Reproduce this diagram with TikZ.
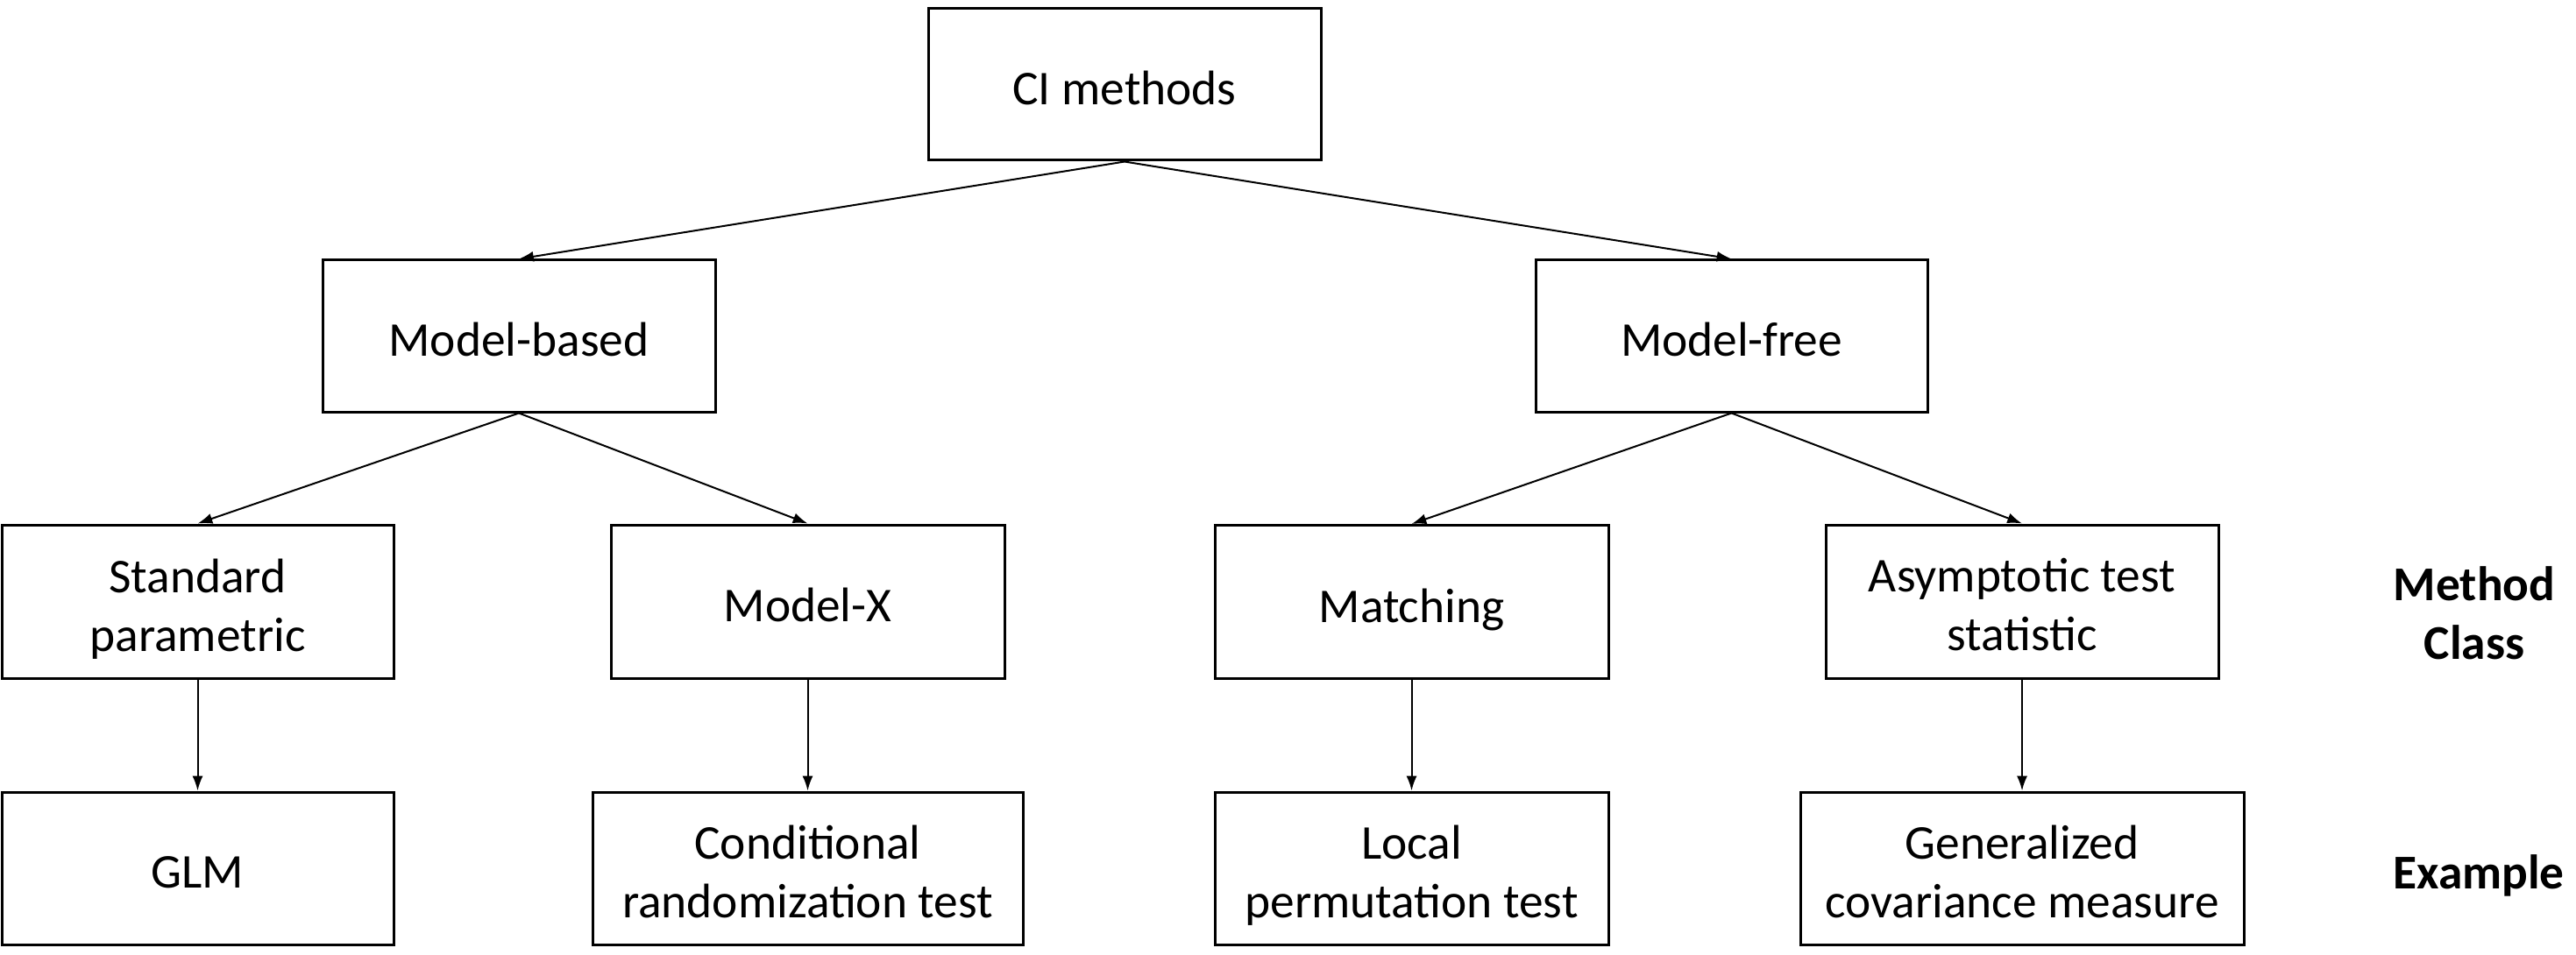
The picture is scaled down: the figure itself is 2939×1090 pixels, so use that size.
\documentclass[tikz,border=0pt]{standalone}
\usepackage{fontspec}
\setmainfont{Carlito}
\usetikzlibrary{arrows.meta}
\newcommand\lnst{\rule{0pt}{11.5pt}}
\newcommand\nodp[1]{\raisebox{0pt}[\height][0pt]{#1}}
\tikzset{
  box/.style={draw=black, line width=0.75pt, rectangle, inner sep=0pt, align=center,
    font=\fontsize{13.85}{16.75}\selectfont},
  conn/.style={draw=black, line width=0.5pt, -{Latex[length=4.2pt,width=3pt]}},
  side/.style={align=center, font=\fontsize{13.85}{16.75}\selectfont\bfseries}
}
\begin{document}
\begin{tikzpicture}[x=0.25pt,y=-0.25pt]
\useasboundingbox (0,0) rectangle (2939,1090);
% level 0
\node[box, minimum width=448*0.25pt, minimum height=173*0.25pt] (ci) at (1283,96.5) {\lnst CI methods};
% level 1
\node[box, minimum width=448*0.25pt, minimum height=173*0.25pt] (mb) at (592,383.5) {\lnst Model-based};
\node[box, minimum width=447*0.25pt, minimum height=173*0.25pt] (mf) at (1975.5,383.5) {\lnst Model-free};
% level 2
\node[box, minimum width=447*0.25pt, minimum height=175*0.25pt] (sp) at (225.5,686.5) {\lnst Standard\\\nodp{parametric}};
\node[box, minimum width=449*0.25pt, minimum height=175*0.25pt] (mx) at (921.5,686.5) {\lnst Model-X};
\node[box, minimum width=449*0.25pt, minimum height=175*0.25pt] (ma) at (1610.5,687) {\lnst\nodp{Matching}};
\node[box, minimum width=448*0.25pt, minimum height=175*0.25pt] (as) at (2307,686.5) {\lnst Asymptotic test\\statistic};
% level 3
\node[box, minimum width=447*0.25pt, minimum height=174*0.25pt] (glm) at (225.5,991) {\lnst GLM};
\node[box, minimum width=491*0.25pt, minimum height=174*0.25pt] (crt) at (921.5,991) {\lnst Conditional\\randomization test};
\node[box, minimum width=449*0.25pt, minimum height=174*0.25pt] (lpt) at (1610.5,991) {\lnst Local\\\nodp{permutation test}};
\node[box, minimum width=506*0.25pt, minimum height=174*0.25pt] (gcm) at (2307,991) {\lnst Generalized\\covariance measure};
% side labels
\node[side] (mc) at (2823,700) {Method\\Class};
\node[side] (ex) at (2828,999) {Example};
% connectors
\draw[conn] (ci.south) -- (mb.north);
\draw[conn] (ci.south) -- (mf.north);
\draw[conn] (mb.south) -- (sp.north);
\draw[conn] (mb.south) -- (mx.north);
\draw[conn] (mf.south) -- (ma.north);
\draw[conn] (mf.south) -- (as.north);
\draw[conn] (sp.south) -- (glm.north);
\draw[conn] (mx.south) -- (crt.north);
\draw[conn] (ma.south) -- (lpt.north);
\draw[conn] (as.south) -- (gcm.north);
\end{tikzpicture}
\end{document}
